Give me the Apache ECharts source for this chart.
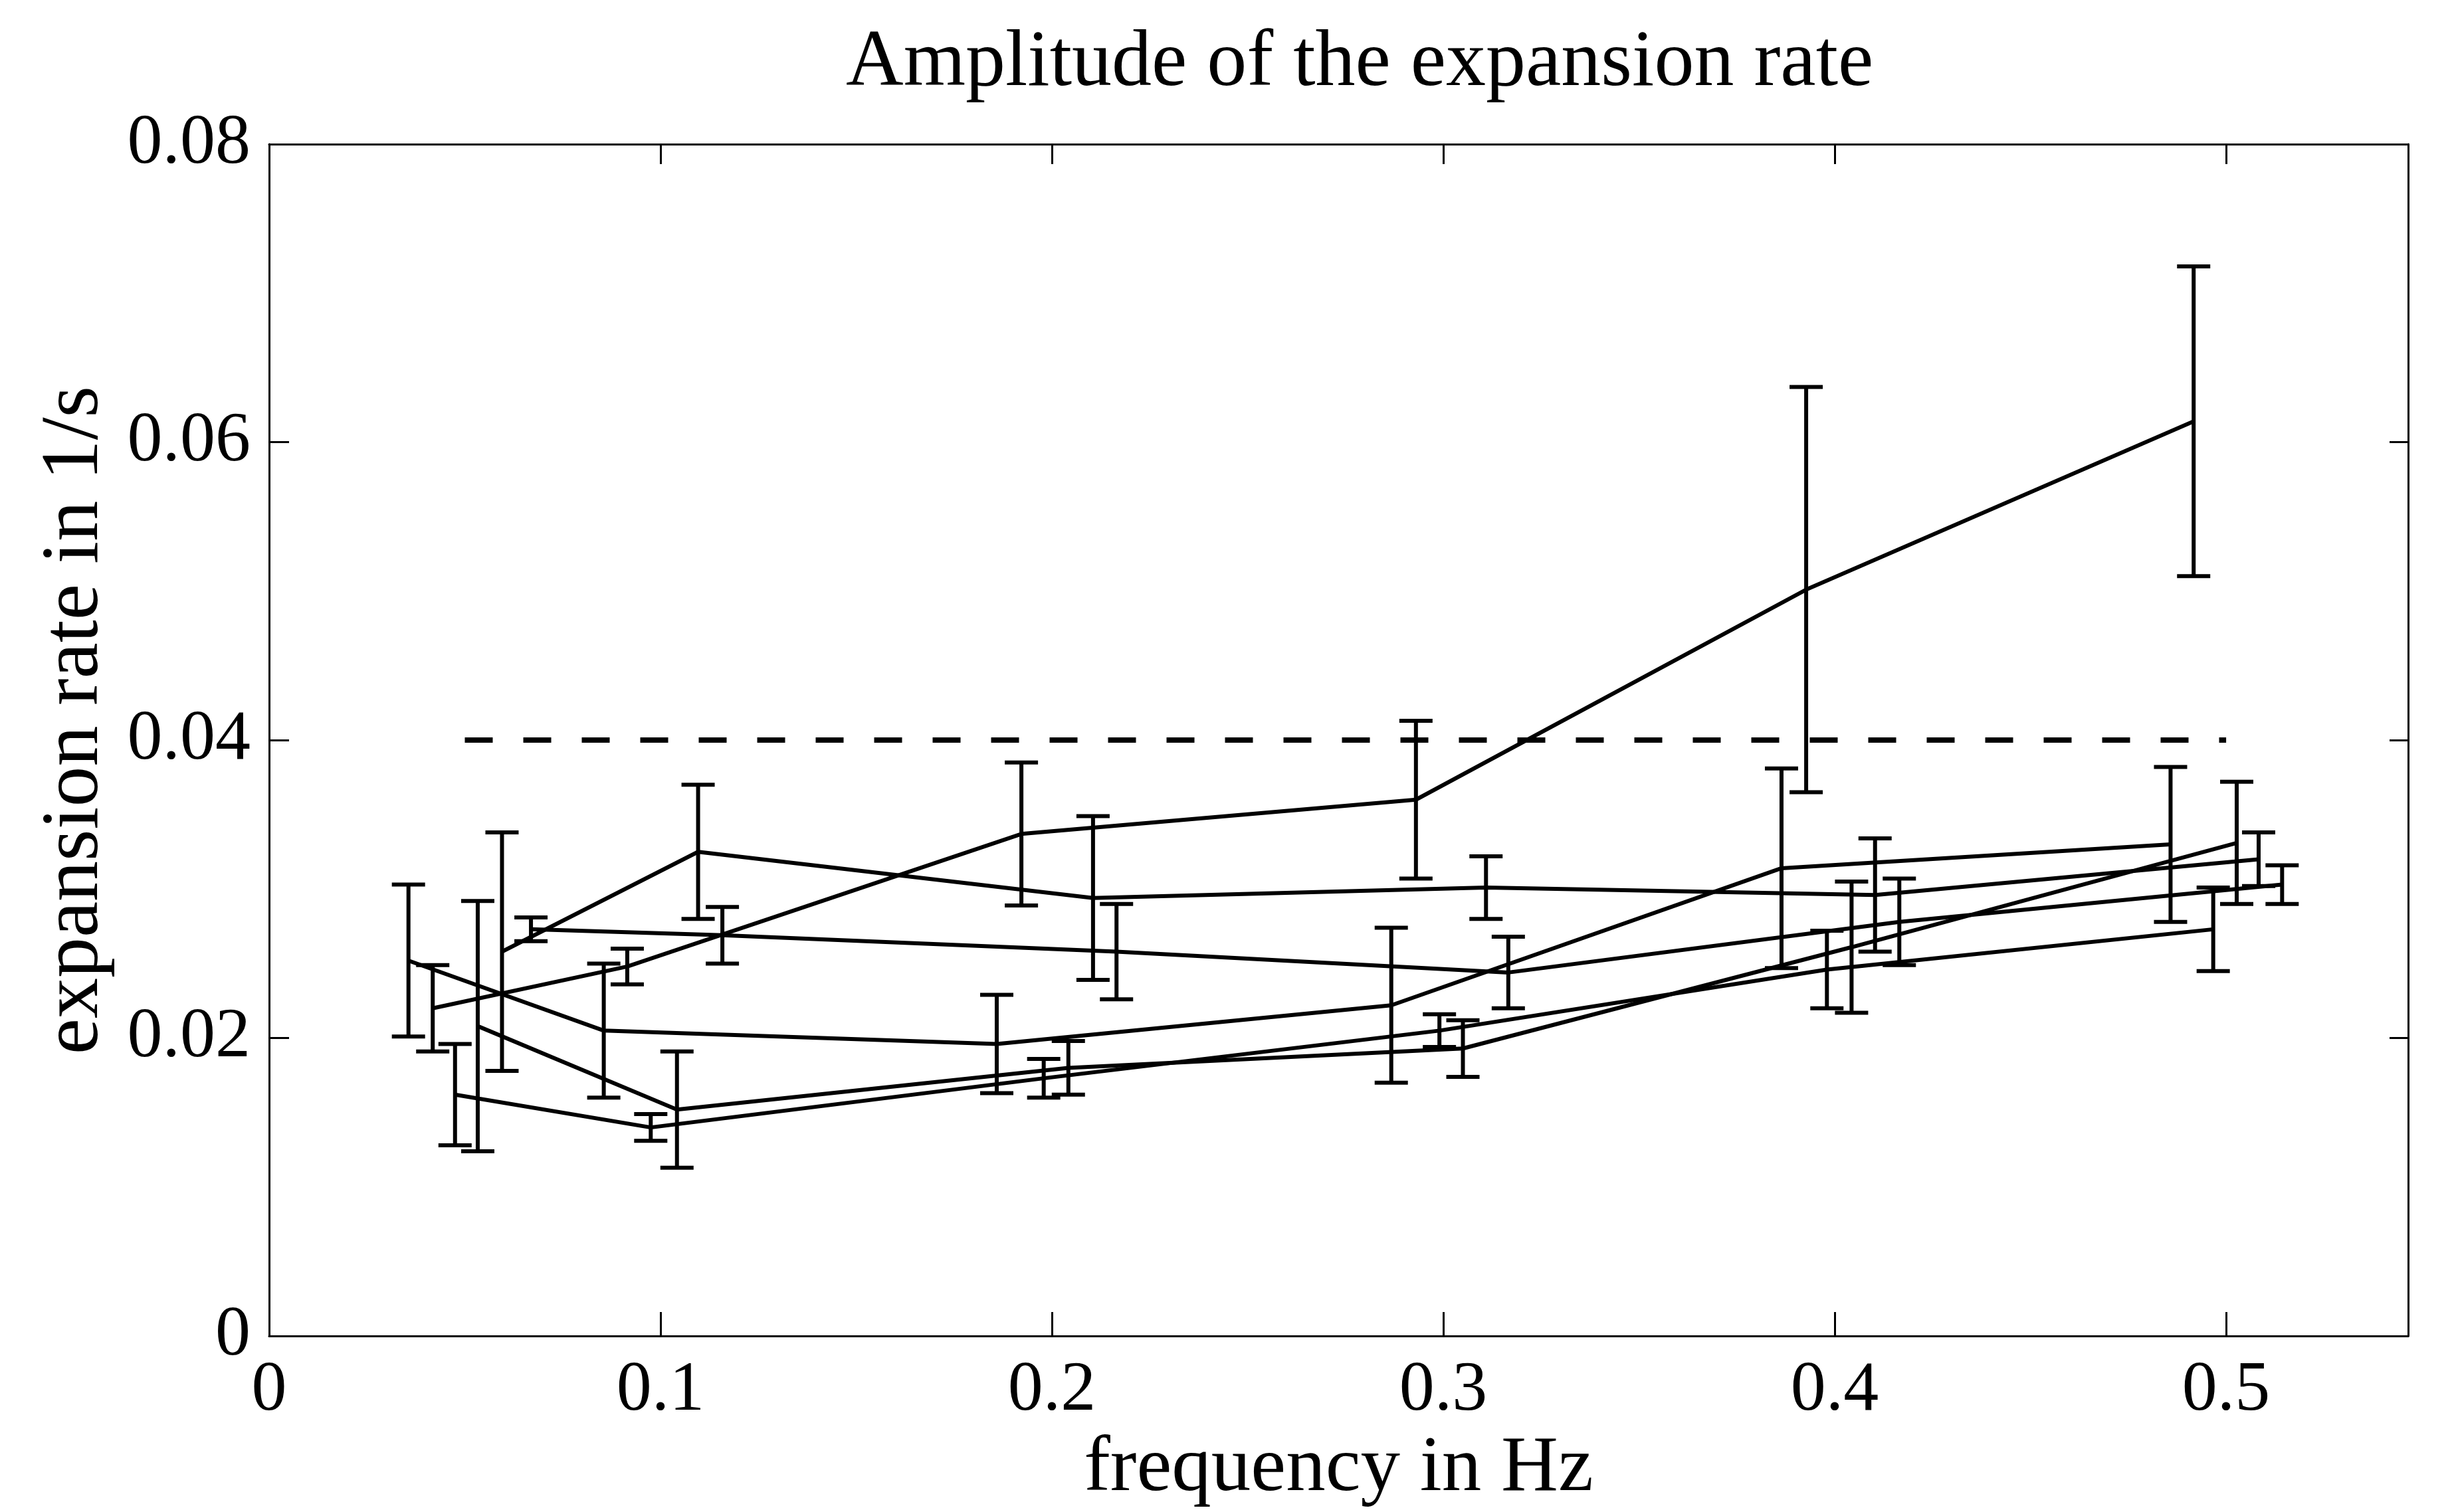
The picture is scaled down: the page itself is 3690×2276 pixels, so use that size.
<!DOCTYPE html>
<html>
<head>
<meta charset="utf-8">
<title>Amplitude of the expansion rate</title>
<script src="https://cdn.jsdelivr.net/npm/echarts@6/dist/echarts.min.js"></script>
<style>
  html, body { margin: 0; padding: 0; background: #fff; }
  #chart { width: 3690px; height: 2276px; }
</style>
</head>
<body>
<div id="chart"></div>
<script>
// measured values, six runs, each with mean and half error
const xRun1 = [0.0356, 0.0855, 0.1859, 0.2867, 0.3864, 0.4858];
const meanRun1 = [0.0252, 0.0205, 0.0196, 0.0222, 0.0314, 0.0330];
const errRun1 = [0.0051, 0.0045, 0.0033, 0.0052, 0.0067, 0.0052];

const xRun2 = [0.0418, 0.0915, 0.1922, 0.2930, 0.3927, 0.4917];
const meanRun2 = [0.0220, 0.0248, 0.0337, 0.0360, 0.0501, 0.0614];
const errRun2 = [0.0029, 0.0012, 0.0048, 0.0053, 0.0136, 0.0104];

const xRun3 = [0.0475, 0.0975, 0.1979, 0.2990, 0.3980, 0.4967];
const meanRun3 = [0.0162, 0.0140, 0.0173, 0.0205, 0.0246, 0.0273];
const errRun3 = [0.0034, 0.0009, 0.0013, 0.0011, 0.0026, 0.0028];

const xRun4 = [0.0533, 0.1042, 0.2042, 0.3050, 0.4043, 0.5027];
const meanRun4 = [0.0208, 0.0152, 0.0180, 0.0193, 0.0261, 0.0331];
const errRun4 = [0.0084, 0.0039, 0.0018, 0.0019, 0.0044, 0.0041];

const xRun5 = [0.0595, 0.1096, 0.2105, 0.3109, 0.4103, 0.5083];
const meanRun5 = [0.0258, 0.0325, 0.0294, 0.0301, 0.0296, 0.0320];
const errRun5 = [0.0080, 0.0045, 0.0055, 0.0021, 0.0038, 0.0018];

const xRun6 = [0.0669, 0.1158, 0.2165, 0.3166, 0.4165, 0.5143];
const meanRun6 = [0.0273, 0.0269, 0.0258, 0.0244, 0.0278, 0.0303];
const errRun6 = [0.0008, 0.0019, 0.0032, 0.0024, 0.0029, 0.0013];

// dashed reference level
const refX = [0.05, 0.5];
const refLevel = 0.04;

const xMax = 0.5465;
const yTicks = [0, 0.02, 0.04, 0.06, 0.08];

const font = '"Liberation Serif", "Times New Roman", serif';
const ink = '#000';

const runs = [
  [xRun1, meanRun1, errRun1],
  [xRun2, meanRun2, errRun2],
  [xRun3, meanRun3, errRun3],
  [xRun4, meanRun4, errRun4],
  [xRun5, meanRun5, errRun5],
  [xRun6, meanRun6, errRun6]
];

function errorBarItem(params, api) {
  const x = api.value(0);
  const lo = api.coord([x, api.value(1)]);
  const hi = api.coord([x, api.value(2)]);
  const cap = 25;
  const style = { stroke: ink, lineWidth: 6 };
  return {
    type: 'group',
    children: [
      { type: 'line', shape: { x1: lo[0], y1: lo[1], x2: hi[0], y2: hi[1] }, style: style },
      { type: 'line', shape: { x1: lo[0] - cap, y1: lo[1], x2: lo[0] + cap, y2: lo[1] }, style: style },
      { type: 'line', shape: { x1: hi[0] - cap, y1: hi[1], x2: hi[0] + cap, y2: hi[1] }, style: style }
    ]
  };
}

const series = [];
runs.forEach(function (r, i) {
  const xs = r[0], m = r[1], e = r[2];
  series.push({
    name: 'run' + (i + 1),
    type: 'line',
    data: xs.map((x, k) => [x, m[k]]),
    symbol: 'none',
    lineStyle: { color: ink, width: 6 },
    z: 3
  });
  series.push({
    name: 'run' + (i + 1) + ' err',
    type: 'custom',
    renderItem: errorBarItem,
    encode: { x: 0, y: [1, 2] },
    data: xs.map((x, k) => [x, m[k] - e[k], m[k] + e[k]]),
    z: 4
  });
});
series.push({
  name: 'reference',
  type: 'line',
  data: refX.map(x => [x, refLevel]),
  symbol: 'none',
  lineStyle: { color: ink, width: 8, type: [42, 46] },
  z: 2
});

const frame = { show: true, onZero: false, lineStyle: { color: ink, width: 3 } };
const tickIn = (len) => ({ show: true, inside: true, length: len, lineStyle: { color: ink, width: 3 } });

const chart = echarts.init(document.getElementById('chart'));
chart.setOption({
  animation: false,
  backgroundColor: '#fff',
  textStyle: { fontFamily: font, color: ink },
  title: {
    text: 'Amplitude of the expansion rate',
    left: 1268,
    top: 31,
    textStyle: { fontFamily: font, fontSize: 120, fontWeight: 'normal', color: ink }
  },
  grid: { left: 405, right: 66, top: 217, bottom: 254 },
  xAxis: [
    {
      type: 'value', min: 0, max: xMax, interval: 0.1, position: 'bottom',
      axisLine: frame, axisTick: tickIn(36), splitLine: { show: false },
      axisLabel: { fontFamily: font, fontSize: 106, color: ink, margin: 30, showMaxLabel: false },
      name: 'frequency in Hz', nameLocation: 'middle', nameGap: 136,
      nameTextStyle: { fontFamily: font, fontSize: 119, color: ink }
    },
    {
      type: 'value', min: 0, max: xMax, interval: 0.1, position: 'top',
      axisLine: frame, axisTick: tickIn(30), splitLine: { show: false },
      axisLabel: { show: false }
    }
  ],
  yAxis: [
    {
      type: 'value', min: yTicks[0], max: yTicks[yTicks.length - 1], interval: 0.02, position: 'left',
      axisLine: frame, axisTick: tickIn(30), splitLine: { show: false },
      axisLabel: { fontFamily: font, fontSize: 106, color: ink, margin: 28 },
      name: 'expansion rate in 1/s', nameLocation: 'middle', nameGap: 230,
      nameTextStyle: { fontFamily: font, fontSize: 122, color: ink, padding: [0, 0, 0, 60] }
    },
    {
      type: 'value', min: yTicks[0], max: yTicks[yTicks.length - 1], interval: 0.02, position: 'right',
      axisLine: frame, axisTick: tickIn(28), splitLine: { show: false },
      axisLabel: { show: false }
    }
  ],
  series: series
});
</script>
</body>
</html>
